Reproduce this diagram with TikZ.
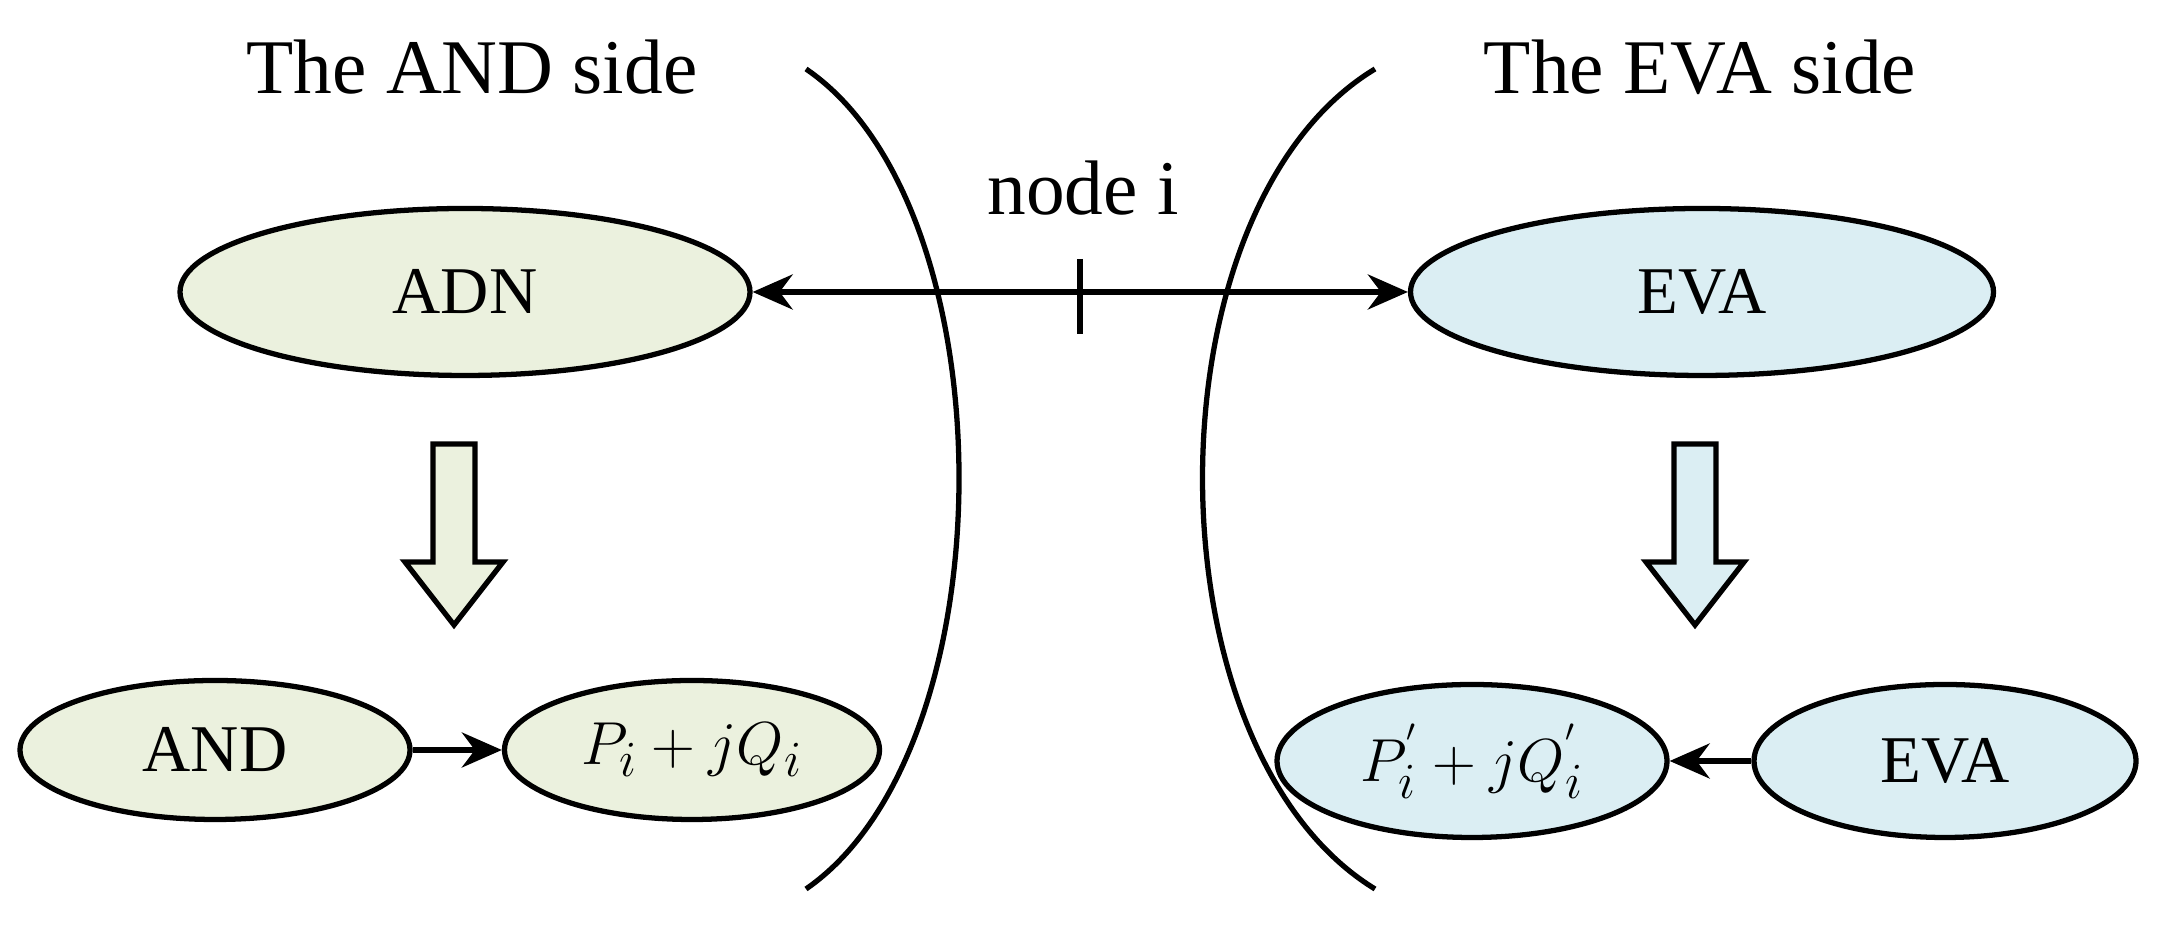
\documentclass[tikz,border=0pt]{standalone}
\usepackage{fontspec}
\setmainfont{Liberation Serif}
\usetikzlibrary{positioning,arrows.meta,shapes.geometric}
\begin{document}
\begin{tikzpicture}[
  every node/.style={font=\fontsize{19}{21}\selectfont},
  and node/.style={draw, ellipse, line width=1.5pt, fill=andfill},
  eva node/.style={draw, ellipse, line width=1.5pt, fill=evafill},
  link/.style={draw, line width=1.5pt, -{Stealth[length=4mm,width=3.5mm]}},
  hollow/.style={draw, line width=1.5pt, fill=andfill, line join=miter}
]
\definecolor{andfill}{HTML}{EBF1DE}
\definecolor{evafill}{HTML}{DBEEF3}
\useasboundingbox (0,0) rectangle (21.66,9.28);
% Define the nodes
\node (andside) at (4.72,8.61) {\fontsize{22}{24}\selectfont The AND side};
\node (evaside) at (17.0,8.61) {\fontsize{22}{24}\selectfont The EVA side};
\node (nodei) at (10.83,7.4) {\fontsize{22}{24}\selectfont node i};
\node[and node, minimum width=5.7cm, minimum height=1.67cm] (ADN) at (4.65,6.36) {ADN};
\node[eva node, minimum width=5.83cm, minimum height=1.67cm] (EVA) at (17.02,6.36) {EVA};
\node[and node, minimum width=3.9cm, minimum height=1.39cm] (AND) at (2.15,1.78) {AND};
\node[and node, minimum width=3.75cm, minimum height=1.39cm] (P) at (6.92,1.78) {$P_i+jQ_i$};
\node[eva node, minimum width=3.9cm, minimum height=1.53cm] (Pp) at (14.72,1.67) {$P_i^{'}+jQ_i^{'}$};
\node[eva node, minimum width=3.82cm, minimum height=1.53cm] (EVAb) at (19.45,1.67) {EVA};
\coordinate (tick) at (10.8,6.36);
% Define the edges
\path[link, {Stealth[length=4mm,width=3.5mm]}-{Stealth[length=4mm,width=3.5mm]}] (ADN) -- (EVA);
\draw[line width=1.5pt] ([yshift=0.33cm]tick) -- ([yshift=-0.42cm]tick);
\path[link] (AND) -- (P);
\path[link] (EVAb) -- (Pp);
% Boundaries
\draw[line width=1.5pt] (8.06,8.59) .. controls (10.1,7.2) and (10.1,1.8) .. (8.06,0.39);
\draw[line width=1.5pt] (13.75,8.59) .. controls (11.45,7.2) and (11.45,1.8) .. (13.75,0.39);
% Hollow arrows
\draw[hollow] (4.33,4.84) -- (4.75,4.84) -- (4.75,3.66) -- (5.03,3.66) -- (4.54,3.03)
  -- (4.05,3.66) -- (4.33,3.66) -- cycle;
\draw[hollow, fill=evafill] (16.74,4.84) -- (17.16,4.84) -- (17.16,3.66) -- (17.44,3.66)
  -- (16.95,3.03) -- (16.46,3.66) -- (16.74,3.66) -- cycle;
\end{tikzpicture}
\end{document}
